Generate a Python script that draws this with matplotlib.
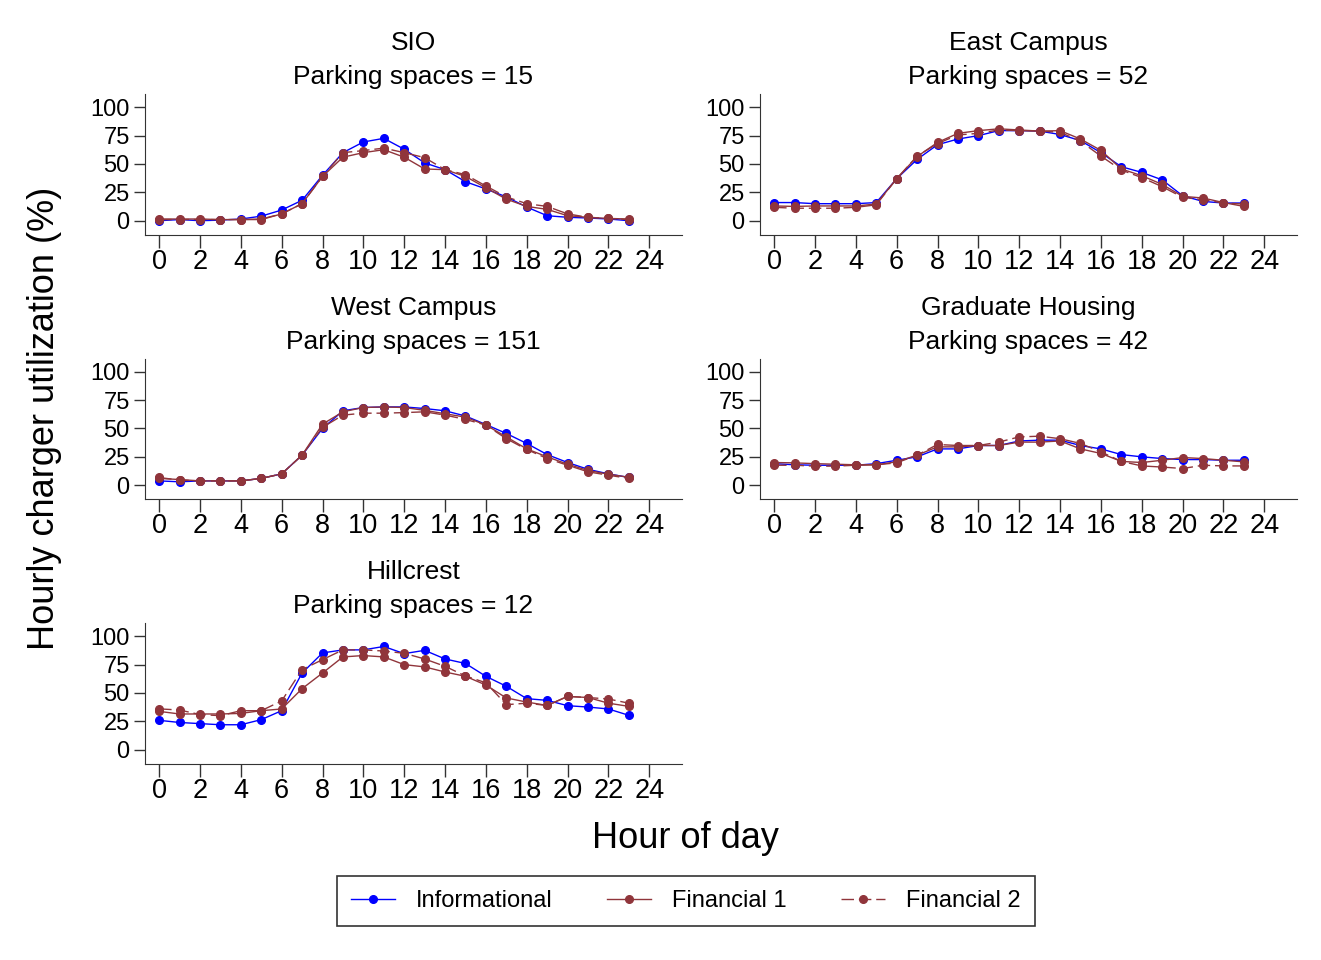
import matplotlib
matplotlib.use('Agg')
import matplotlib.pyplot as plt
from matplotlib.lines import Line2D

plt.rcParams['font.family'] = ['Liberation Sans', 'DejaVu Sans']

hours = list(range(24))
sites = ['SIO', 'East Campus', 'West Campus', 'Graduate Housing', 'Hillcrest']
spaces = [15, 52, 151, 42, 12]

informational = {
    'SIO': [0, 1, 0, 0.5, 1.5, 4, 9.4, 18, 40, 60, 69.4, 72.6, 63, 51, 45, 34.4, 28, 21, 12, 4.4, 3, 2.4, 1.5, 0],
    'East Campus': [16, 16, 15, 15, 15, 16, 37, 54, 67, 72, 75, 79.4, 79.4, 79, 76, 70.6, 60, 47.6, 42.6, 36, 22, 17, 15.6, 15.6],
    'West Campus': [3.8, 3, 3.8, 3.8, 3.8, 6, 10, 26.5, 50, 65.6, 68.5, 69, 69, 67.6, 65.6, 61, 53.5, 45.6, 36.8, 27, 20, 14, 10, 6.8],
    'Graduate Housing': [19, 18, 17.6, 17.6, 17.6, 19, 22, 25, 32, 32, 35, 35, 39, 39.7, 39.7, 35, 32, 27, 25, 23.5, 22.6, 22.6, 22, 22],
    'Hillcrest': [25.9, 24, 23, 22, 22, 26.5, 34.4, 67.6, 85.3, 88, 88, 91, 84.7, 87.6, 80, 76, 64.7, 55.9, 45, 43.5, 38.8, 37.6, 35.9, 30.3],
}
financial1 = {
    'SIO': [1.5, 1.5, 1.5, 1, 1, 1, 6, 15, 39, 56, 60, 62.6, 56, 45.6, 45, 39, 29, 19, 12.6, 10, 4.4, 3, 2, 1.5],
    'East Campus': [13, 12.6, 13, 13, 13, 14.7, 37, 56.5, 69, 77, 79.4, 81, 80, 79, 79.4, 72, 62, 45.6, 39.7, 32, 21.5, 20, 16, 12.6],
    'West Campus': [6, 5, 3.8, 3.8, 3.8, 6, 10, 26.5, 53.8, 64.7, 68.5, 69, 68.5, 66, 63, 60, 53, 42.6, 32, 25, 18.5, 13, 9.7, 7],
    'Graduate Housing': [20, 19.7, 19, 18.5, 18, 18, 20.6, 26.5, 33.8, 33.8, 35, 35, 38, 38, 39, 32, 28, 21, 20, 22, 24.4, 23.5, 22, 20.6],
    'Hillcrest': [33.8, 31.5, 31.5, 31.5, 32, 34.4, 35.9, 53.8, 67.6, 81.8, 83, 81.8, 75, 73, 68.5, 64.7, 57, 45.6, 42, 39, 47, 46, 41, 38.2],
}
financial2 = {
    'SIO': [1, 1, 1, 1, 1, 1.5, 6, 15, 39, 60, 61.8, 64, 60, 55.6, 45, 40.6, 30.6, 21, 15, 12.6, 6, 3, 2, 1],
    'East Campus': [11.8, 11, 11, 11, 11.8, 14, 37, 57, 68, 75.6, 77, 80, 79.4, 79, 78, 70, 57, 44.7, 38, 30, 20.6, 18.5, 15.6, 14.7],
    'West Campus': [6.8, 4.5, 3.8, 3.8, 3.8, 6, 10, 26.5, 51, 61.8, 63.5, 63.5, 64, 64.7, 61.8, 58, 53, 41, 31.5, 23.5, 17.6, 11.8, 8.8, 6],
    'Graduate Housing': [17.6, 17.6, 16.8, 16.8, 17.6, 18, 19.7, 26.5, 35.9, 35, 35, 38, 42.6, 43.2, 41, 36.8, 29.4, 21, 17, 16, 14.7, 17.6, 17, 17],
    'Hillcrest': [36, 35, 31, 30, 34.4, 34.4, 43, 70.6, 79.4, 88, 88, 87, 85, 80, 73.5, 65, 59, 39.7, 41, 39, 47, 46, 44.7, 41],
}

BLUE = '#0000ff'
BROWN = '#90353b'
DASH = (0, (9, 3.5))
W, H = 1321, 960

fig = plt.figure(figsize=(W / 100, H / 100), dpi=100)

# pixel boxes of each panel: left spine x, right end x, top y, bottom spine y
cols = [(145, 682), (760, 1297)]
rows = [(94, 235), (358.5, 499.5), (623, 764)]

for i, site in enumerate(sites):
    x0, x1 = cols[i % 2]
    y0, y1 = rows[i // 2]
    ax = fig.add_axes([x0 / W, 1 - y1 / H, (x1 - x0) / W, (y1 - y0) / H])
    ax.plot(hours, informational[site], color=BLUE, lw=1, marker='o', ms=5.5)
    ax.plot(hours, financial1[site], color=BROWN, lw=1, marker='o', ms=5.5)
    ax.plot(hours, financial2[site], color=BROWN, lw=1, marker='o', ms=5.5, ls=DASH)
    ax.set_xlim(-0.69, 25.6)
    ax.set_ylim(-12.6, 111.7)
    ax.set_xticks(range(0, 25, 2))
    ax.set_yticks([0, 25, 50, 75, 100])
    ax.tick_params(axis='x', labelsize=19.5, length=9, width=1, color='#333333', pad=1)
    ax.tick_params(axis='y', labelsize=17, length=8, width=1, color='#333333', pad=3)
    for s in ['top', 'right']:
        ax.spines[s].set_visible(False)
    for s in ['left', 'bottom']:
        ax.spines[s].set_color('#333333')
    cx = (x0 + x1) / 2 / W
    dy = y0 - 94
    fig.text(cx, 1 - (43 + dy) / H, site, ha='center', va='center', fontsize=19)
    fig.text(cx, 1 - (77 + dy) / H, 'Parking spaces = %d' % spaces[i],
             ha='center', va='center', fontsize=19)

fig.text(686 / W, 1 - 839 / H, 'Hour of day', ha='center', va='center', fontsize=26)
fig.text(45 / W, 1 - 418 / H, 'Hourly charger utilization (%)', ha='center', va='center',
         rotation=90, fontsize=26)

handles = [
    Line2D([], [], color=BLUE, lw=1, marker='o', ms=5.5),
    Line2D([], [], color=BROWN, lw=1, marker='o', ms=5.5),
    Line2D([], [], color=BROWN, lw=1, marker='o', ms=5.5, ls=DASH),
]
leg = fig.legend(handles, ['Informational', 'Financial 1', 'Financial 2'], ncol=3,
                 loc='center', bbox_to_anchor=(686 / W, 1 - 901 / H), fontsize=17,
                 frameon=True, fancybox=False, edgecolor='black', handlelength=1.86,
                 handletextpad=0.9, columnspacing=2.3, borderpad=0.6, borderaxespad=0)
leg.get_frame().set_linewidth(1.2)

fig.savefig('out.png', dpi=100)
